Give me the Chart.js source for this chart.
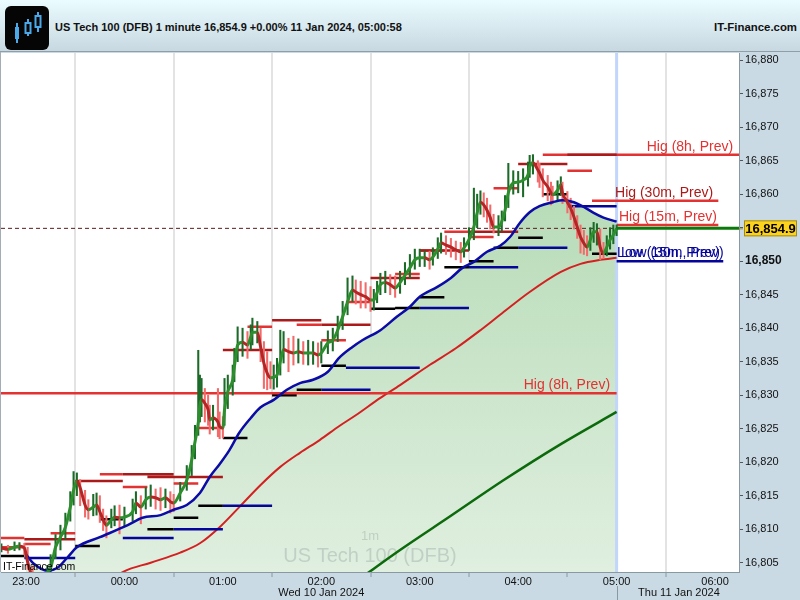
<!DOCTYPE html>
<html>
<head>
<meta charset="utf-8">
<script src="https://cdn.jsdelivr.net/npm/chart.js@4.4.1/dist/chart.umd.min.js"></script>
<style>
  html, body { margin: 0; padding: 0; background: #c9dae4; }
  #wrap { position: relative; width: 800px; height: 600px; overflow: hidden; font-family: Arial, "Liberation Sans", sans-serif; }
  #head { position: absolute; left: 0; top: 0; width: 800px; height: 51px; background: linear-gradient(#eafcff, #c8d8e1); border-bottom: 1px solid #8f9ea8; }
  #icon { position: absolute; left: 5px; top: 6px; }
  #title { position: absolute; left: 55px; top: 21px; font-weight: bold; font-size: 11px; color: #111; }
  #site { position: absolute; right: 3px; top: 21px; font-weight: bold; font-size: 11.4px; color: #111; }
  canvas { position: absolute; left: 0; top: 52px; }
</style>
</head>
<body>
<div id="wrap">
  <div id="head">
    <svg id="icon" width="44" height="44" viewBox="0 0 44 44">
      <rect x="0" y="0" width="44" height="44" rx="6" fill="#050505"/>
      <line x1="12" y1="17" x2="12" y2="37" stroke="#49a9ea" stroke-width="2"/>
      <rect x="10" y="21" width="4" height="12" fill="#49a9ea"/>
      <line x1="23" y1="13" x2="23" y2="30" stroke="#49a9ea" stroke-width="2"/>
      <rect x="20.5" y="17" width="5" height="10" fill="#050505" stroke="#49a9ea" stroke-width="2"/>
      <line x1="33" y1="6" x2="33" y2="26" stroke="#49a9ea" stroke-width="2"/>
      <rect x="30.5" y="10" width="5" height="11" fill="#050505" stroke="#49a9ea" stroke-width="2"/>
    </svg>
    <div id="title">US Tech 100 (DFB) 1 minute 16,854.9 +0.00% 11 Jan 2024, 05:00:58</div>
    <div id="site">IT-Finance.com</div>
  </div>
  <canvas id="myChart" width="800" height="548"></canvas>
</div>
<script>
// minutes after 23:00 on Wed 10 Jan 2024
const times = [
  -15, -11, -7, -4, -1, 1, 4, 7, 11, 13,
  15, 18, 21, 24, 27, 29, 31, 33, 36, 38,
  41, 43, 45, 47, 49, 52, 54, 57, 60, 65,
  67, 70, 73, 76, 79, 82, 85, 88, 90, 94,
  98, 101, 103, 105, 106, 107, 109, 111, 112, 114,
  117, 118, 120, 121, 123, 126, 127, 129, 132, 135,
  137, 138, 141, 143, 145, 147, 149, 151, 153, 155,
  157, 160, 163, 166, 169, 172, 175, 178, 180, 184,
  187, 190, 193, 196, 199, 201, 204, 207, 210, 212,
  214, 216, 219, 222, 225, 228, 231, 234, 237, 240,
  243, 246, 248, 251, 253, 256, 259, 262, 265, 267,
  270, 273, 275, 277, 279, 281, 283, 285, 288, 290,
  292, 294, 297, 300, 303, 306, 307, 309, 312, 313,
  315, 318, 320, 321, 324, 326, 327, 330, 332, 334,
  336, 338, 340, 342, 344, 346, 348, 350, 352, 354,
  356, 358, 360
];
const closes = [
  16807.2, 16807.0, 16807.3, 16807.5, 16807.2, 16805.1, 16802.7, 16801.7, 16802.4, 16803.6,
  16804.2, 16807.3, 16808.8, 16810.3, 16813.3, 16815.8, 16817.2, 16816.2, 16813.6, 16812.9,
  16813.3, 16813.6, 16812.6, 16811.4, 16810.6, 16811.4, 16811.8, 16811.7, 16811.8, 16812.6,
  16813.9, 16813.3, 16814.4, 16814.8, 16814.7, 16814.4, 16814.7, 16814.1, 16813.9, 16815.4,
  16817.3, 16820.3, 16823.0, 16825.9, 16828.5, 16829.3, 16828.8, 16827.8, 16826.3, 16826.6,
  16826.0, 16825.3, 16825.1, 16827.8, 16830.5, 16832.3, 16834.2, 16837.5, 16837.9, 16837.5,
  16838.7, 16839.4, 16839.4, 16837.2, 16834.8, 16833.3, 16832.6, 16832.7, 16833.0, 16835.0,
  16836.8, 16836.5, 16836.3, 16836.5, 16836.3, 16836.3, 16836.3, 16836.0, 16836.3, 16837.8,
  16838.2, 16839.7, 16841.7, 16843.9, 16845.7, 16845.4, 16845.0, 16844.7, 16844.2, 16844.2,
  16845.3, 16846.5, 16846.8, 16846.5, 16846.0, 16846.8, 16847.9, 16849.0, 16850.2, 16850.5,
  16850.5, 16850.2, 16850.6, 16851.8, 16852.7, 16852.4, 16852.1, 16851.7, 16851.4, 16852.0,
  16853.2, 16855.1, 16857.2, 16858.8, 16858.4, 16857.6, 16856.5, 16855.1, 16855.1, 16855.9,
  16857.6, 16860.2, 16861.7, 16861.8, 16862.1, 16862.9, 16864.1, 16864.7, 16863.6, 16863.2,
  16862.1, 16861.1, 16860.2, 16859.9, 16860.6, 16861.4, 16860.2, 16858.8, 16857.9, 16856.6,
  16855.1, 16853.6, 16852.7, 16852.1, 16853.2, 16854.4, 16854.4, 16852.1, 16851.2, 16852.1,
  16853.2, 16853.9, 16854.9
];
const highs = [
  16807.8, 16807.6, 16808.1, 16808.0, 16807.9, 16807.3, 16804.5, 16803.0, 16803.4, 16804.6,
  16806.2, 16809.2, 16810.6, 16812.4, 16815.6, 16818.6, 16818.4, 16817.4, 16815.8, 16814.4,
  16815.2, 16815.4, 16815.0, 16813.0, 16812.0, 16813.0, 16813.5, 16813.6, 16813.3, 16814.5,
  16815.6, 16815.0, 16816.2, 16816.6, 16816.0, 16816.2, 16816.0, 16815.6, 16815.2, 16817.0,
  16819.5, 16822.5, 16825.5, 16836.7, 16833.0, 16832.5, 16831.0, 16830.0, 16828.5, 16828.5,
  16831.0, 16827.5, 16826.8, 16832.5, 16833.0, 16834.5, 16837.0, 16840.2, 16840.0, 16839.5,
  16840.5, 16841.5, 16841.0, 16840.0, 16838.0, 16836.5, 16835.0, 16834.5, 16835.5, 16839.7,
  16839.5, 16838.5, 16838.8, 16838.4, 16838.0, 16838.2, 16838.0, 16837.8, 16838.0, 16839.6,
  16840.0, 16841.8, 16844.0, 16847.5, 16847.8, 16847.2, 16847.0, 16846.8, 16846.2, 16845.8,
  16847.0, 16848.2, 16848.5, 16848.0, 16847.8, 16848.5, 16849.8, 16851.0, 16851.8, 16851.8,
  16851.5, 16851.5, 16852.0, 16853.5, 16854.2, 16853.8, 16853.4, 16853.0, 16852.8, 16853.5,
  16855.0, 16860.9, 16860.0, 16860.5, 16860.2, 16859.4, 16858.4, 16857.0, 16856.8, 16857.5,
  16859.8, 16864.6, 16863.5, 16863.4, 16863.8, 16864.8, 16865.8, 16865.9, 16865.0, 16864.6,
  16863.8, 16862.8, 16861.8, 16861.2, 16862.0, 16862.6, 16861.8, 16860.4, 16859.4, 16858.2,
  16856.8, 16855.4, 16854.6, 16853.8, 16855.0, 16855.8, 16855.6, 16854.8, 16852.8, 16853.8,
  16855.0, 16855.4, 16855.4
];
const lows = [
  16806.6, 16806.4, 16806.8, 16806.9, 16806.2, 16804.0, 16802.0, 16801.0, 16801.6, 16802.8,
  16803.4, 16805.6, 16806.9, 16808.5, 16811.2, 16813.6, 16815.0, 16813.5, 16811.8, 16811.5,
  16812.0, 16812.1, 16811.0, 16809.8, 16808.7, 16810.2, 16810.5, 16809.3, 16810.5, 16811.2,
  16812.3, 16810.8, 16813.0, 16813.4, 16813.0, 16812.8, 16813.2, 16812.4, 16812.6, 16814.2,
  16815.8, 16818.0, 16820.5, 16824.0, 16826.0, 16826.8, 16826.0, 16825.5, 16824.2, 16824.8,
  16823.8, 16823.5, 16823.6, 16825.5, 16828.0, 16830.0, 16832.0, 16835.0, 16835.8, 16835.5,
  16836.8, 16837.5, 16837.8, 16835.0, 16831.0, 16830.8, 16831.0, 16830.9, 16831.2, 16833.0,
  16834.8, 16833.5, 16834.5, 16834.8, 16834.6, 16834.5, 16834.6, 16834.2, 16834.8, 16836.2,
  16836.6, 16838.0, 16839.8, 16842.0, 16844.0, 16843.6, 16843.0, 16843.0, 16842.5, 16842.7,
  16843.8, 16845.0, 16845.3, 16845.0, 16844.6, 16845.2, 16846.5, 16847.5, 16848.8, 16849.2,
  16849.2, 16848.8, 16849.4, 16850.4, 16851.2, 16851.0, 16850.6, 16850.2, 16849.8, 16850.6,
  16851.6, 16853.2, 16855.0, 16857.0, 16856.6, 16855.8, 16854.8, 16854.2, 16853.8, 16854.5,
  16856.0, 16858.0, 16860.0, 16860.2, 16859.6, 16861.2, 16862.5, 16863.0, 16861.8, 16861.0,
  16859.6, 16859.0, 16858.4, 16858.6, 16859.0, 16859.8, 16858.6, 16857.2, 16856.2, 16854.8,
  16853.4, 16851.2, 16851.0, 16850.8, 16851.6, 16852.8, 16852.4, 16850.2, 16850.4, 16850.8,
  16851.8, 16852.6, 16853.8
];

// moving averages
const blueTimes = [0, 5, 13, 19, 25, 31, 45, 62, 71, 82, 90, 98, 106, 112, 118, 124, 130, 137, 143, 151, 159, 167, 175, 184, 191, 199, 205, 216, 226, 234, 240, 251, 259, 266, 273, 281, 289, 295, 301, 307, 313, 321, 327, 334, 340, 346, 352, 360];
const blueVals = [16806.2, 16804.8, 16803.8, 16804.2, 16805.7, 16807.3, 16808.8, 16810.6, 16811.7, 16812.1, 16812.9, 16813.6, 16815.4, 16817.8, 16819.7, 16821.8, 16824.4, 16826.6, 16828.2, 16829.3, 16830.8, 16831.8, 16832.3, 16833.5, 16835.6, 16837.2, 16838.2, 16839.7, 16841.7, 16843.2, 16844.7, 16846.2, 16847.5, 16849.0, 16849.9, 16851.4, 16852.3, 16853.6, 16855.7, 16857.3, 16858.2, 16858.8, 16859.1, 16858.8, 16858.1, 16857.2, 16856.5, 16855.9];
const redTimes = [51, 59, 76, 94, 106, 118, 130, 143, 155, 167, 179, 191, 201, 216, 228, 246, 262, 277, 289, 307, 326, 338, 350, 360];
const redVals = [16802.1, 16803.6, 16805.0, 16806.5, 16807.9, 16810.3, 16813.3, 16816.6, 16819.3, 16821.4, 16823.3, 16825.4, 16827.0, 16829.6, 16831.5, 16834.5, 16837.0, 16839.7, 16842.0, 16845.4, 16848.4, 16849.6, 16850.2, 16850.5];
const greenTimes = [204, 228, 259, 291, 326, 360];
const greenVals = [16802.7, 16806.9, 16812.0, 16817.3, 16822.7, 16827.5];

// previous-period high / low levels
const levelFrom = [-16, -16, -1, 15, 45, 59, 90, 105, 135, 165, 180, 195, 225, 240, 255, 270, 285, 330, -16, 315, 345, 360,
  -1, 30, 59, 74, 120, 150, 180, 210, 240, 270, 300, 330,
  -16, 30, 45, 74, 90, 105, 120, 150, 165, 180, 210, 225, 240, 255, 270, 285, 300, 315, 345,
  -1, 59, 90, 120, 180, 195, 240, 270, 300, 330, 360];
const levelTo = [-1, -1, 15, 30, 59, 74, 105, 120, 150, 180, 195, 210, 240, 255, 270, 285, 300, 345, 360, 436, 422, 422,
  30, 59, 90, 120, 150, 180, 210, 240, 270, 300, 330, 360,
  -1, 45, 59, 90, 105, 120, 135, 165, 180, 195, 225, 240, 255, 270, 285, 300, 315, 330, 360,
  30, 90, 120, 150, 210, 240, 270, 300, 330, 360, 425];
const levelPrice = [16808.7, 16807.3, 16807.8, 16809.4, 16818.2, 16816.3, 16816.8, 16825.1, 16840.2, 16840.5, 16838.2, 16843.9, 16848.1, 16851.6, 16854.4, 16853.6, 16860.9, 16863.5, 16830.3, 16865.9, 16859.0, 16855.4,
  16808.5, 16817.2, 16818.2, 16817.8, 16836.75, 16841.2, 16840.5, 16847.5, 16851.6, 16854.4, 16864.5, 16865.9,
  16806.0, 16807.5, 16811.5, 16810.0, 16811.7, 16813.5, 16823.6, 16830.0, 16830.8, 16834.4, 16842.9, 16843.0, 16844.6, 16849.1, 16850.0, 16852.0, 16853.5, 16860.0, 16851.1,
  16805.7, 16808.7, 16810.0, 16813.5, 16830.8, 16834.1, 16843.0, 16849.1, 16852.0, 16858.2, 16850.0];
const levelTone = [
  'hi', 'hi', 'hi', 'hi', 'hi', 'hi', 'hi', 'hi', 'hi', 'hi', 'hi', 'hi', 'hi', 'hi', 'hi', 'hi', 'hi', 'hi', 'hi', 'hi', 'hi', 'hi',
  'hiDark', 'hiDark', 'hiDark', 'hiDark', 'hiDark', 'hiDark', 'hiDark', 'hiDark', 'hiDark', 'hiDark', 'hiDark', 'hiDark',
  'lo', 'lo', 'lo', 'lo', 'lo', 'lo', 'lo', 'lo', 'lo', 'lo', 'lo', 'lo', 'lo', 'lo', 'lo', 'lo', 'lo', 'lo', 'lo',
  'loDark', 'loDark', 'loDark', 'loDark', 'loDark', 'loDark', 'loDark', 'loDark', 'loDark', 'loDark', 'loDark'];

const labelText = ['Hig (8h, Prev)', 'Hig (8h, Prev)', 'Hig (30m, Prev)', 'Hig (15m, Prev)', 'Low (15m, Prev)', 'Low (30m, Prev)'];
const labelPrice = [16830.3, 16865.9, 16859.0, 16855.4, 16850.0, 16850.0];
const labelAt = [356, 431, 418.8, 421.2, 360.3, 362.7];
const labelAlign = ['right', 'right', 'right', 'right', 'left', 'left'];
const labelTone = ['hi', 'hi', 'hiDark', 'hi', 'loDark', 'loDark'];

const lastPrice = 16854.9;
const nowMin = 360;
const xMin = -15.24, xMax = 434.6;
const yMin = 16803.61, yMax = 16881.07;
const hourTicks = [0, 60, 120, 180, 240, 300, 360, 420];
const priceTicks = [16805, 16810, 16815, 16820, 16825, 16830, 16835, 16840, 16845, 16850, 16855, 16860, 16865, 16870, 16875, 16880];
const dayLabels = ['Wed 10 Jan 2024', 'Thu 11 Jan 2024'];
const dayLabelAt = [180, 398];

const FONT = 'Arial, "Liberation Sans", sans-serif';
const toneColor = { hi: '#e23232', hiDark: '#ab1a1a', lo: '#000000', loDark: '#05059a' };

function pts(xs, ys) {
  return xs.map((x, i) => ({ x: x, y: ys[i] }));
}

function levelData(tone) {
  const out = [];
  levelTone.forEach((t, i) => {
    if (t !== tone) return;
    out.push({ x: levelFrom[i], y: levelPrice[i] }, { x: levelTo[i], y: levelPrice[i] }, { x: levelTo[i], y: null });
  });
  return out;
}

function clock(m) {
  const t = (23 * 60 + m + 1440) % 1440;
  return String(Math.floor(t / 60)).padStart(2, '0') + ':' + String(t % 60).padStart(2, '0');
}

// no extra room for half tick labels, the plot fills the panel
function noPad(s) {
  s.paddingTop = 0;
  s.paddingBottom = 0;
  s.paddingLeft = 0;
  s.paddingRight = 0;
}

const wickColors = closes.map((c, i) => (i === 0 || c >= closes[i - 1]) ? '#1b6a28' : '#f26a6a');

const deco = {
  id: 'deco',
  beforeDraw(chart) {
    const { ctx, chartArea: a, width, height } = chart;
    ctx.save();
    ctx.fillStyle = '#c9dae4';
    ctx.fillRect(0, 0, width, height);
    ctx.fillStyle = '#ffffff';
    ctx.fillRect(a.left, a.top, a.right - a.left, a.bottom - a.top);
    ctx.fillStyle = '#a3adb5';
    ctx.fillRect(0, 0, 1, a.bottom);
    ctx.restore();
  },
  beforeDatasetsDraw(chart) {
    const { ctx, chartArea: a, scales } = chart;
    ctx.save();
    // watermark
    const cx = (a.left + a.right) / 2;
    ctx.textAlign = 'center';
    ctx.textBaseline = 'middle';
    ctx.fillStyle = 'rgba(110,122,122,0.26)';
    ctx.font = '13px ' + FONT;
    ctx.fillText('1m', cx, a.bottom - 36);
    ctx.font = '20px ' + FONT;
    ctx.fillText('US Tech 100 (DFB)', cx, a.bottom - 16);
    // current time marker
    const nx = scales.x.getPixelForValue(nowMin);
    ctx.strokeStyle = '#c2d5fb';
    ctx.lineWidth = 3;
    ctx.beginPath();
    ctx.moveTo(nx, a.top);
    ctx.lineTo(nx, a.bottom);
    ctx.stroke();
    ctx.restore();
  },
  afterDatasetsDraw(chart) {
    const { ctx, chartArea: a, scales } = chart;
    ctx.save();
    ctx.font = '14px ' + FONT;
    ctx.textBaseline = 'alphabetic';
    labelText.forEach((t, i) => {
      ctx.fillStyle = toneColor[labelTone[i]];
      ctx.textAlign = labelAlign[i];
      ctx.fillText(t, scales.x.getPixelForValue(labelAt[i]), scales.y.getPixelForValue(labelPrice[i]) - 4);
    });
    ctx.fillStyle = '#000';
    ctx.textAlign = 'left';
    ctx.font = '10.5px ' + FONT;
    ctx.fillText('IT-Finance.com', a.left + 2, a.bottom - 2);
    ctx.restore();
  },
  afterDraw(chart) {
    const { ctx, chartArea: a, scales } = chart;
    ctx.save();
    // day labels under the time axis
    ctx.font = '11px ' + FONT;
    ctx.fillStyle = '#111';
    ctx.textAlign = 'center';
    ctx.textBaseline = 'alphabetic';
    dayLabels.forEach((d, i) => ctx.fillText(d, scales.x.getPixelForValue(dayLabelAt[i]), a.bottom + 24));
    const nx = scales.x.getPixelForValue(nowMin);
    ctx.strokeStyle = '#8a98a2';
    ctx.lineWidth = 1;
    ctx.beginPath();
    ctx.moveTo(Math.round(nx) + 0.5, a.bottom + 14);
    ctx.lineTo(Math.round(nx) + 0.5, chart.height);
    ctx.stroke();
    // last price box
    const py = scales.y.getPixelForValue(lastPrice);
    ctx.fillStyle = '#fdd21c';
    ctx.strokeStyle = '#9c8a2a';
    ctx.fillRect(a.right + 5, py - 8, 53, 16);
    ctx.strokeRect(a.right + 5.5, py - 7.5, 52, 15);
    ctx.fillStyle = '#000';
    ctx.font = 'bold 13px ' + FONT;
    ctx.textBaseline = 'middle';
    ctx.fillText(lastPrice.toLocaleString('en-US', { minimumFractionDigits: 1 }), a.right + 31.5, py + 1);
    ctx.beginPath();
    ctx.moveTo(a.right, py + 0.5);
    ctx.lineTo(a.right + 4, py + 0.5);
    ctx.stroke();
    ctx.restore();
  }
};

function createChart() {
  const ctx = document.getElementById('myChart');
  new Chart(ctx, {
    type: 'line',
    data: {
      datasets: [
        {
          label: 'Price',
          data: pts(times, closes),
          borderWidth: 3,
          cubicInterpolationMode: 'monotone',
          segment: {
            borderColor: s => s.p1.parsed.y >= s.p0.parsed.y ? '#2c8e2c' : '#b42626'
          },
          pointRadius: 0,
          clip: 0,
          order: 1
        },
        {
          label: 'Fast MA',
          data: pts(blueTimes, blueVals),
          borderColor: '#0b0ba6',
          borderWidth: 2.5,
          cubicInterpolationMode: 'monotone',
          pointRadius: 0,
          fill: 'start',
          backgroundColor: c => {
            const a = c.chart.chartArea;
            if (!a) return '#cfe6cf';
            const g = c.chart.ctx.createLinearGradient(0, a.top, 0, a.bottom);
            g.addColorStop(0, '#a8d4a8');
            g.addColorStop(1, '#e0efe0');
            return g;
          },
          clip: 0,
          order: 2
        },
        {
          type: 'bar',
          label: 'Range',
          data: times.map((t, i) => ({ x: t, y: [lows[i], highs[i]] })),
          backgroundColor: wickColors,
          barThickness: 1.4,
          grouped: false,
          order: 3
        },
        { label: 'hi', data: levelData('hi'), borderColor: toneColor.hi, borderWidth: 2.5, pointRadius: 0, spanGaps: false, clip: 0, order: 5 },
        { label: 'hiDark', data: levelData('hiDark'), borderColor: toneColor.hiDark, borderWidth: 2.5, pointRadius: 0, spanGaps: false, clip: 0, order: 4 },
        { label: 'lo', data: levelData('lo'), borderColor: toneColor.lo, borderWidth: 2.5, pointRadius: 0, spanGaps: false, clip: 0, order: 6 },
        { label: 'loDark', data: levelData('loDark'), borderColor: toneColor.loDark, borderWidth: 2.5, pointRadius: 0, spanGaps: false, clip: 0, order: 7 },
        {
          label: 'Slow MA',
          data: pts(redTimes, redVals),
          borderColor: '#d42020',
          borderWidth: 2,
          cubicInterpolationMode: 'monotone',
          pointRadius: 0,
          clip: 0,
          order: 8
        },
        {
          label: 'Long MA',
          data: pts(greenTimes, greenVals),
          borderColor: '#0c6a0c',
          borderWidth: 2.5,
          cubicInterpolationMode: 'monotone',
          pointRadius: 0,
          clip: 0,
          order: 9
        },
        {
          label: 'Last',
          data: [{ x: xMin, y: lastPrice }, { x: xMax, y: lastPrice }],
          borderColor: '#5a1c1c',
          borderWidth: 1,
          borderDash: [4, 3],
          pointRadius: 0,
          clip: 0,
          order: 10
        },
        {
          label: 'Now',
          data: [{ x: nowMin, y: lastPrice }, { x: xMax, y: lastPrice }],
          borderColor: '#0b7a0b',
          borderWidth: 3,
          pointRadius: 0,
          clip: 0,
          order: 0
        }
      ]
    },
    options: {
      responsive: false,
      animation: false,
      devicePixelRatio: 1,
      events: [],
      layout: { padding: { left: 1, top: 1, right: 0, bottom: 0 } },
      scales: {
        x: {
          type: 'linear',
          min: xMin,
          max: xMax,
          offset: false,
          afterFit: s => { s.height = 28; noPad(s); },
          afterBuildTicks: s => { s.ticks = hourTicks.map(v => ({ value: v })); },
          border: { color: '#8a98a2' },
          grid: {
            color: c => (c.tick && c.tick.value === nowMin) ? 'rgba(0,0,0,0)' : '#e3e3e3',
            lineWidth: 2,
            tickColor: '#8a98a2',
            tickWidth: 1,
            tickLength: 5
          },
          ticks: {
            autoSkip: false,
            maxRotation: 0,
            padding: -2,
            color: '#111',
            font: { family: FONT, size: 11 },
            callback: v => clock(v)
          }
        },
        y: {
          type: 'linear',
          position: 'right',
          min: yMin,
          max: yMax,
          afterFit: s => { s.width = 61; noPad(s); },
          afterBuildTicks: s => { s.ticks = priceTicks.map(v => ({ value: v })); },
          border: { color: '#8a98a2' },
          grid: { drawOnChartArea: false, tickLength: 4, tickColor: '#555' },
          ticks: {
            autoSkip: false,
            padding: 2,
            color: '#111',
            font: c => ({ family: FONT, size: c.tick && c.tick.value === 16850 ? 12 : 11, weight: c.tick && c.tick.value === 16850 ? 'bold' : 'normal' }),
            callback: v => v.toLocaleString('en-US')
          }
        }
      },
      plugins: {
        legend: { display: false },
        tooltip: { enabled: false },
        filler: { drawTime: 'beforeDatasetsDraw' }
      }
    },
    plugins: [deco]
  });
}

createChart();
</script>
</body>
</html>
